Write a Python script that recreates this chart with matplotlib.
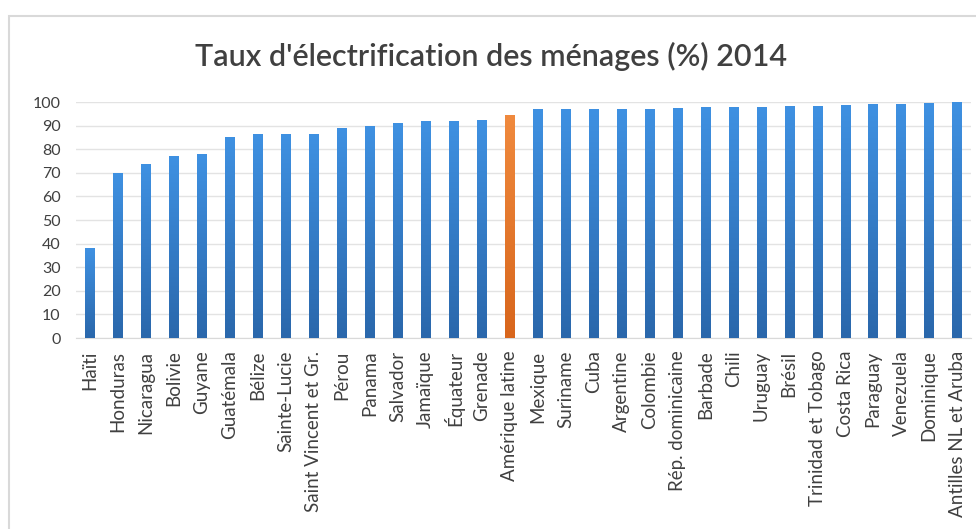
import numpy as np
import matplotlib
matplotlib.use("Agg")
import matplotlib.pyplot as plt
from matplotlib.colors import LinearSegmentedColormap
from matplotlib.patches import Rectangle

# data
pays = ["Haïti", "Honduras", "Nicaragua", "Bolivie", "Guyane", "Guatémala",
        "Bélize", "Sainte-Lucie", "Saint Vincent et Gr.", "Pérou", "Panama",
        "Salvador", "Jamaïque", "Équateur", "Grenade", "Amérique latine",
        "Mexique", "Suriname", "Cuba", "Argentine", "Colombie",
        "Rép. dominicaine", "Barbade", "Chili", "Uruguay", "Brésil",
        "Trinidad et Tobago", "Costa Rica", "Paraguay", "Venezuela",
        "Dominique", "Antilles NL et Aruba"]
taux = [38.1, 70.0, 73.7, 77.1, 77.8, 85.0, 86.4, 86.4, 86.4, 89.1, 89.8,
        91.2, 91.8, 92.1, 92.5, 94.5, 96.9, 97.0, 96.9, 97.0, 97.2, 97.3,
        97.7, 98.0, 98.0, 98.3, 98.4, 98.8, 99.0, 99.3, 99.4, 99.8]
moyenne = "Amérique latine"
yticks = list(range(0, 101, 10))

plt.rcParams['font.family'] = ['Lato', 'DejaVu Sans']

fig = plt.figure(figsize=(9.76, 5.29), dpi=100)
fig.patch.set_facecolor("white")

# light frame around the chart (top and left edges visible)
fig.patches.append(Rectangle((9 / 976, -0.1), 1.2, 1 - 16 / 529 + 0.1,
                             transform=fig.transFigure, fill=False,
                             edgecolor="#d9d9d9", linewidth=1.5))

ax = fig.add_axes([76 / 976, 1 - 338 / 529, (971 - 76) / 976, (338 - 102) / 529])

x = np.arange(len(pays))
bars = ax.bar(x, taux, width=0.33, color="none", edgecolor="none", zorder=3)

blue = LinearSegmentedColormap.from_list("b", ["#2a67ab", "#3f91e2"])
orange = LinearSegmentedColormap.from_list("o", ["#d8661c", "#f08a3e"])
grad = np.linspace(0, 1, 256).reshape(-1, 1)
for b, nom in zip(bars, pays):
    cmap = orange if nom == moyenne else blue
    x0, w, h = b.get_x(), b.get_width(), b.get_height()
    im = ax.imshow(grad, cmap=cmap, origin="lower", aspect="auto",
                   extent=(x0, x0 + w, 0, h), zorder=3)
    im.set_clip_path(b)

ax.set_xlim(-0.5, len(pays) - 0.5)
ax.set_ylim(0, 100)
ax.set_yticks(yticks)
ax.set_yticklabels([str(t) for t in yticks])
ax.set_xticks(x)
ax.set_xticklabels(pays, rotation=90)
ax.tick_params(axis="both", length=0, colors="#404040")
ax.tick_params(axis="y", pad=11, labelsize=11.5)
ax.tick_params(axis="x", pad=9, labelsize=13.5)
ax.grid(axis="y", color="#e3e3e3", linewidth=1, zorder=0)
for s in ["top", "right", "left"]:
    ax.spines[s].set_visible(False)
ax.spines["bottom"].set_color("#d9d9d9")

fig.text(491 / 976, 1 - 56 / 529, "Taux d'électrification des ménages (%) 2014",
         ha="center", va="center", fontsize=22, fontweight="semibold",
         color="#404040")

fig.savefig("out.png", dpi=100)
